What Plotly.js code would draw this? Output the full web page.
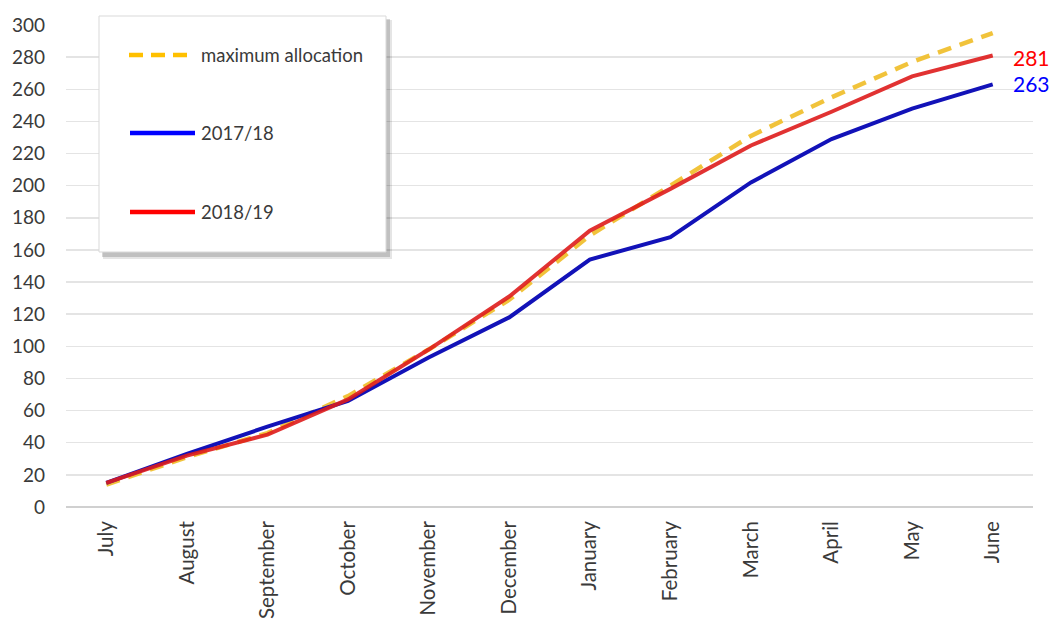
<!DOCTYPE html>
<html>
<head>
<meta charset="utf-8">
<script src="https://cdn.plot.ly/plotly-3.0.1.min.js"></script>
<style>
  html, body { margin: 0; padding: 0; background: #ffffff; }
  #chart { width: 1053px; height: 621px; }
</style>
</head>
<body>
<div id="chart"></div>
<script>
// ---- Data ----
const months = ["July", "August", "September", "October", "November", "December",
                "January", "February", "March", "April", "May", "June"];
const maxAllocation = [14, 31, 46, 69, 98, 129, 169, 200, 231, 255, 277, 295];
const season1718    = [15, 33, 50, 66, 93, 118, 154, 168, 202, 229, 248, 263];
const season1819    = [15, 32, 45, 67, 98, 131, 172, 198, 225, 246, 268, 281];
const seriesNames   = ["maximum allocation", "2017/18", "2018/19"];
const yTicks        = [0, 20, 40, 60, 80, 100, 120, 140, 160, 180, 200, 220, 240, 260, 280, 300];

// ---- Layout geometry (pixels) ----
const W = 1053, H = 621;
const M = { l: 66, r: 20, t: 25, b: 114 };
const PW = W - M.l - M.r, PH = H - M.t - M.b;
const px = x => (x - M.l) / PW;        // pixel -> paper x
const py = y => (H - M.b - y) / PH;    // pixel -> paper y

const FONT = "Lato, 'Open Sans', sans-serif";
const TXT = "#3a3a3a";
const YELLOW = "#F0C030", BLUE = "#1212B8", RED = "#DE1C1C";

const traces = [
  { x: months, y: maxAllocation, name: seriesNames[0], type: "scatter", mode: "lines",
    line: { color: YELLOW, width: 4.5, dash: "14px,9px" }, opacity: 0.95, showlegend: false, hoverinfo: "skip" },
  { x: months, y: season1718, name: seriesNames[1], type: "scatter", mode: "lines",
    line: { color: BLUE, width: 4 }, showlegend: false, hoverinfo: "skip" },
  { x: months, y: season1819, name: seriesNames[2], type: "scatter", mode: "lines",
    line: { color: RED, width: 4 }, opacity: 0.9, showlegend: false, hoverinfo: "skip" }
];

// ---- Custom legend box (with shadow) ----
const bx0 = 99, bx1 = 386, by0 = 16, by1 = 252;
const shapes = [
  { type: "rect", xref: "paper", yref: "paper", x0: px(bx0 + 4), x1: px(bx1 + 6), y0: py(by1 + 7), y1: py(by0 + 4),
    fillcolor: "rgba(0,0,0,0.10)", line: { width: 0 } },
  { type: "rect", xref: "paper", yref: "paper", x0: px(bx0 + 3), x1: px(bx1 + 4), y0: py(by1 + 5), y1: py(by0 + 3),
    fillcolor: "rgba(0,0,0,0.16)", line: { width: 0 } },
  { type: "rect", xref: "paper", yref: "paper", x0: px(bx0), x1: px(bx1), y0: py(by1), y1: py(by0),
    fillcolor: "#ffffff", line: { color: "#d9d9d9", width: 1 } },
  { type: "line", xref: "paper", yref: "paper", x0: px(129), x1: px(191), y0: py(55), y1: py(55),
    line: { color: "#FFC000", width: 4.5, dash: "14px,8px" } },
  { type: "line", xref: "paper", yref: "paper", x0: px(130), x1: px(195), y0: py(133), y1: py(133),
    line: { color: "#0000FF", width: 4.5 } },
  { type: "line", xref: "paper", yref: "paper", x0: px(130), x1: px(195), y0: py(212), y1: py(212),
    line: { color: "#FF0000", width: 4.5 } }
];

const legendText = (t, y) => ({
  xref: "paper", yref: "paper", x: px(199), y: py(y), text: t, showarrow: false,
  xanchor: "left", yanchor: "middle", font: { family: FONT, size: 18.5, color: TXT }
});

const annotations = [
  legendText(seriesNames[0], 55),
  legendText(seriesNames[1], 133),
  legendText(seriesNames[2], 212),
  { xref: "x", yref: "y", x: months[months.length - 1], y: season1819[season1819.length - 1],
    text: String(season1819[season1819.length - 1]), showarrow: false, xanchor: "left", yanchor: "middle",
    xshift: 18, yshift: -2, font: { family: FONT, size: 21, color: "#FF0000" } },
  { xref: "x", yref: "y", x: months[months.length - 1], y: season1718[season1718.length - 1],
    text: String(season1718[season1718.length - 1]), showarrow: false, xanchor: "left", yanchor: "middle",
    xshift: 18, yshift: 1, font: { family: FONT, size: 21, color: "#0000FF" } }
];

const layout = {
  width: W, height: H,
  margin: M,
  paper_bgcolor: "#ffffff", plot_bgcolor: "#ffffff",
  font: { family: FONT, color: TXT },
  showlegend: false,
  xaxis: {
    type: "category", range: [-0.5, months.length - 0.5],
    tickangle: -90, tickfont: { family: FONT, size: 20.5, color: TXT },
    showgrid: false, zeroline: false, showline: false, ticks: "", ticklabelstandoff: 9
  },
  yaxis: {
    range: [0, 300], tickvals: yTicks, ticktext: yTicks.map(String),
    tickfont: { family: FONT, size: 19, color: TXT },
    showgrid: true, gridcolor: "#e4e4e4", gridwidth: 1.5,
    zeroline: true, zerolinecolor: "#d0d0d0", zerolinewidth: 2,
    showline: false, ticks: "", ticklabelstandoff: 20
  },
  shapes: shapes,
  annotations: annotations
};

Plotly.newPlot("chart", traces, layout, { displayModeBar: false, staticPlot: true });
</script>
</body>
</html>
